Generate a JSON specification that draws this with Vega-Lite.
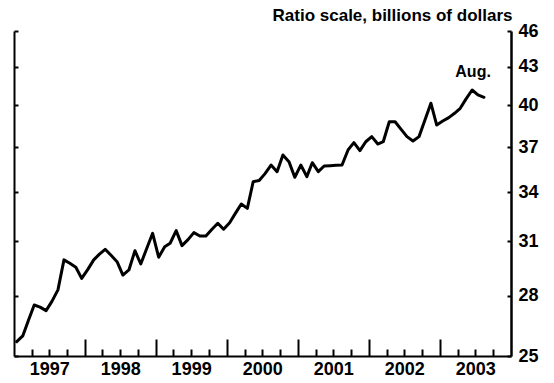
{
  "$schema": "https://vega.github.io/schema/vega-lite/v6.json",
  "width": 497,
  "height": 325,
  "autosize": {"type": "none"},
  "padding": {"left": 14, "top": 31, "right": 43, "bottom": 27},
  "background": "white",
  "config": {
    "view": {"stroke": null},
    "font": "Liberation Sans",
    "axis": {"grid": false, "labelFont": "Liberation Sans", "titleFont": "Liberation Sans", "labelColor": "black", "titleColor": "black"}
  },
  "resolve": {"axis": {"x": "independent", "y": "independent"}},
  "layer": [
    {
      "data": {"values": [
        {"date": "1997-01-15", "value": 25.68},
        {"date": "1997-02-15", "value": 25.96},
        {"date": "1997-03-15", "value": 26.7},
        {"date": "1997-04-15", "value": 27.51},
        {"date": "1997-05-15", "value": 27.4},
        {"date": "1997-06-15", "value": 27.22},
        {"date": "1997-07-15", "value": 27.7},
        {"date": "1997-08-15", "value": 28.3},
        {"date": "1997-09-15", "value": 29.94},
        {"date": "1997-10-15", "value": 29.75},
        {"date": "1997-11-15", "value": 29.53},
        {"date": "1997-12-15", "value": 28.92},
        {"date": "1998-01-15", "value": 29.4},
        {"date": "1998-02-15", "value": 29.94},
        {"date": "1998-03-15", "value": 30.25},
        {"date": "1998-04-15", "value": 30.54},
        {"date": "1998-05-15", "value": 30.2},
        {"date": "1998-06-15", "value": 29.84},
        {"date": "1998-07-15", "value": 29.1},
        {"date": "1998-08-15", "value": 29.38},
        {"date": "1998-09-15", "value": 30.46},
        {"date": "1998-10-15", "value": 29.71},
        {"date": "1998-11-15", "value": 30.6},
        {"date": "1998-12-15", "value": 31.47},
        {"date": "1999-01-15", "value": 30.09},
        {"date": "1999-02-15", "value": 30.69},
        {"date": "1999-03-15", "value": 30.89},
        {"date": "1999-04-15", "value": 31.63},
        {"date": "1999-05-15", "value": 30.75},
        {"date": "1999-06-15", "value": 31.1},
        {"date": "1999-07-15", "value": 31.51},
        {"date": "1999-08-15", "value": 31.31},
        {"date": "1999-09-15", "value": 31.31},
        {"date": "1999-10-15", "value": 31.7},
        {"date": "1999-11-15", "value": 32.07},
        {"date": "1999-12-15", "value": 31.71},
        {"date": "2000-01-15", "value": 32.1},
        {"date": "2000-02-15", "value": 32.7},
        {"date": "2000-03-15", "value": 33.25},
        {"date": "2000-04-15", "value": 32.98},
        {"date": "2000-05-15", "value": 34.67},
        {"date": "2000-06-15", "value": 34.75},
        {"date": "2000-07-15", "value": 35.2},
        {"date": "2000-08-15", "value": 35.77},
        {"date": "2000-09-15", "value": 35.33},
        {"date": "2000-10-15", "value": 36.45},
        {"date": "2000-11-15", "value": 36.0},
        {"date": "2000-12-15", "value": 34.96},
        {"date": "2001-01-15", "value": 35.77},
        {"date": "2001-02-15", "value": 35.0},
        {"date": "2001-03-15", "value": 35.93},
        {"date": "2001-04-15", "value": 35.33},
        {"date": "2001-05-15", "value": 35.71},
        {"date": "2001-06-15", "value": 35.73},
        {"date": "2001-07-15", "value": 35.75},
        {"date": "2001-08-15", "value": 35.77},
        {"date": "2001-09-15", "value": 36.8},
        {"date": "2001-10-15", "value": 37.31},
        {"date": "2001-11-15", "value": 36.75},
        {"date": "2001-12-15", "value": 37.37},
        {"date": "2002-01-15", "value": 37.73},
        {"date": "2002-02-15", "value": 37.21},
        {"date": "2002-03-15", "value": 37.37},
        {"date": "2002-04-15", "value": 38.8},
        {"date": "2002-05-15", "value": 38.8},
        {"date": "2002-06-15", "value": 38.25},
        {"date": "2002-07-15", "value": 37.73},
        {"date": "2002-08-15", "value": 37.42},
        {"date": "2002-09-15", "value": 37.73},
        {"date": "2002-10-15", "value": 38.9},
        {"date": "2002-11-15", "value": 40.17},
        {"date": "2002-12-15", "value": 38.56},
        {"date": "2003-01-15", "value": 38.85},
        {"date": "2003-02-15", "value": 39.1},
        {"date": "2003-03-15", "value": 39.4},
        {"date": "2003-04-15", "value": 39.79},
        {"date": "2003-05-15", "value": 40.5},
        {"date": "2003-06-15", "value": 41.18},
        {"date": "2003-07-15", "value": 40.8},
        {"date": "2003-08-15", "value": 40.62}
      ]},
      "mark": {"type": "line", "color": "black", "strokeWidth": 3, "strokeJoin": "round", "strokeCap": "round"},
      "encoding": {
        "x": {
          "field": "date", "type": "temporal",
          "scale": {"type": "utc", "domain": [{"year": 1997, "month": 1, "date": 1, "utc": true}, {"year": 2004, "month": 1, "date": 1, "utc": true}]},
          "axis": {
            "orient": "bottom",
            "values": [
              {"year": 1997, "month": 4, "date": 1, "utc": true}, {"year": 1997, "month": 7, "date": 1, "utc": true}, {"year": 1997, "month": 10, "date": 1, "utc": true},
              {"year": 1998, "month": 4, "date": 1, "utc": true}, {"year": 1998, "month": 7, "date": 1, "utc": true}, {"year": 1998, "month": 10, "date": 1, "utc": true},
              {"year": 1999, "month": 4, "date": 1, "utc": true}, {"year": 1999, "month": 7, "date": 1, "utc": true}, {"year": 1999, "month": 10, "date": 1, "utc": true},
              {"year": 2000, "month": 4, "date": 1, "utc": true}, {"year": 2000, "month": 7, "date": 1, "utc": true}, {"year": 2000, "month": 10, "date": 1, "utc": true},
              {"year": 2001, "month": 4, "date": 1, "utc": true}, {"year": 2001, "month": 7, "date": 1, "utc": true}, {"year": 2001, "month": 10, "date": 1, "utc": true},
              {"year": 2002, "month": 4, "date": 1, "utc": true}, {"year": 2002, "month": 7, "date": 1, "utc": true}, {"year": 2002, "month": 10, "date": 1, "utc": true},
              {"year": 2003, "month": 4, "date": 1, "utc": true}, {"year": 2003, "month": 7, "date": 1, "utc": true}, {"year": 2003, "month": 10, "date": 1, "utc": true}
            ],
            "tickSize": -7,
            "tickWidth": 2,
            "tickColor": "black",
            "labels": false,
            "domain": true,
            "domainColor": "black",
            "domainWidth": 2,
            "grid": false,
            "title": null
          }
        },
        "y": {
          "field": "value", "type": "quantitative",
          "scale": {"type": "log", "domain": [25, 46], "nice": false},
          "axis": {
            "orient": "right",
            "values": [25, 28, 31, 34, 37, 40, 43, 46],
            "format": "d",
            "tickSize": -4,
            "tickWidth": 2,
            "tickColor": "black",
            "labelPadding": 11,
            "labelFontSize": 18,
            "labelFontWeight": "bold",
            "labelFlush": false,
            "labelOverlap": false,
            "domain": true,
            "domainColor": "black",
            "domainWidth": 2.5,
            "grid": false,
            "title": "Ratio scale, billions of dollars",
            "titleAngle": 0,
            "titleAlign": "right",
            "titleBaseline": "alphabetic",
            "titleX": 1,
            "titleY": -11,
            "titleFontSize": 17,
            "titleFontWeight": "bold"
          }
        }
      }
    },
    {
      "data": {"values": [{"date": "2003-06-20", "value": 42.2, "label": "Aug."}]},
      "mark": {"type": "text", "fontSize": 16, "fontWeight": "bold", "align": "center", "baseline": "alphabetic", "color": "black", "font": "Liberation Sans"},
      "encoding": {
        "x": {
          "field": "date", "type": "temporal",
          "scale": {"type": "utc", "domain": [{"year": 1997, "month": 1, "date": 1, "utc": true}, {"year": 2004, "month": 1, "date": 1, "utc": true}]},
          "axis": {
            "orient": "bottom",
            "values": [
              {"year": 1997, "month": 7, "date": 1, "utc": true}, {"year": 1998, "month": 7, "date": 1, "utc": true}, {"year": 1999, "month": 7, "date": 1, "utc": true},
              {"year": 2000, "month": 7, "date": 1, "utc": true}, {"year": 2001, "month": 7, "date": 1, "utc": true}, {"year": 2002, "month": 7, "date": 1, "utc": true},
              {"year": 2003, "month": 7, "date": 1, "utc": true}
            ],
            "format": "%Y",
            "ticks": false,
            "domain": false,
            "labelPadding": 4,
            "labelFontSize": 18,
            "labelFontWeight": "bold",
            "labelFlush": false,
            "labelOverlap": false,
            "grid": false,
            "title": null
          }
        },
        "y": {
          "field": "value", "type": "quantitative",
          "scale": {"type": "log", "domain": [25, 46], "nice": false},
          "axis": {
            "orient": "left",
            "values": [25, 28, 31, 34, 37, 40, 43, 46],
            "tickSize": -4,
            "tickWidth": 2,
            "tickColor": "black",
            "labels": false,
            "domain": true,
            "domainColor": "black",
            "domainWidth": 2,
            "grid": false,
            "title": null
          }
        },
        "text": {"field": "label", "type": "nominal"}
      }
    },
    {
      "data": {"values": [{"date": "2003-08-15", "value": 40.62}]},
      "mark": {"type": "point", "opacity": 0},
      "encoding": {
        "x": {
          "field": "date", "type": "temporal",
          "scale": {"type": "utc", "domain": [{"year": 1997, "month": 1, "date": 1, "utc": true}, {"year": 2004, "month": 1, "date": 1, "utc": true}]},
          "axis": {
            "orient": "bottom",
            "values": [
              {"year": 1998, "month": 1, "date": 1, "utc": true}, {"year": 1999, "month": 1, "date": 1, "utc": true}, {"year": 2000, "month": 1, "date": 1, "utc": true},
              {"year": 2001, "month": 1, "date": 1, "utc": true}, {"year": 2002, "month": 1, "date": 1, "utc": true}, {"year": 2003, "month": 1, "date": 1, "utc": true}
            ],
            "tickSize": -17,
            "tickWidth": 2,
            "tickColor": "black",
            "labels": false,
            "domain": false,
            "grid": false,
            "title": null
          }
        },
        "y": {
          "field": "value", "type": "quantitative",
          "scale": {"type": "log", "domain": [25, 46], "nice": false},
          "axis": null
        }
      }
    }
  ]
}
